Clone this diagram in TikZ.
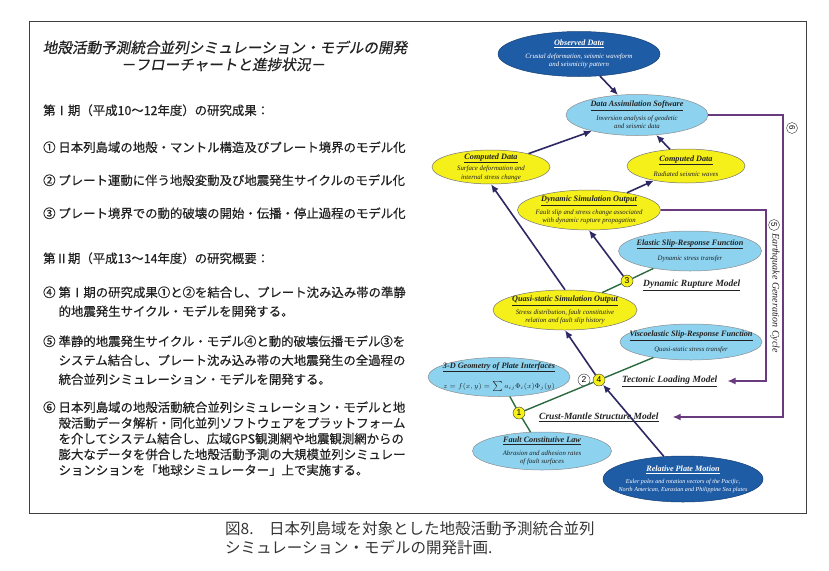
\documentclass[tikz,border=0pt]{standalone}
\usepackage{fontspec}
\usepackage{xcolor}
\usepackage{tikz}
\usetikzlibrary{arrows.meta,positioning,shapes.geometric,calc}
\setmainfont{Liberation Serif}
\newfontfamily\jpfont{Noto Sans CJK JP}[FakeBold=0.5]
\newfontfamily\jpplain{Noto Sans CJK JP}
\newfontfamily\jpslant{Noto Sans CJK JP}[FakeSlant=0.18,FakeBold=0.5]
\newfontfamily\numfont{Liberation Sans}
\definecolor{PlanNavy}{HTML}{2D2864}
\definecolor{PlanGreen}{HTML}{2A6A3E}
\definecolor{PlanPurple}{HTML}{6A3A7E}
\definecolor{PlanDeep}{HTML}{1F5CA6}
\definecolor{PlanSky}{HTML}{8DD3F0}
\definecolor{PlanCanary}{HTML}{F5EF1A}
\definecolor{PlanInk}{HTML}{222222}
\newcommand{\ntitle}[1]{{\bfseries\fontsize{8.2}{9}\selectfont\underline{#1}}}
\newcommand{\jpitem}[2]{\begin{tabular}[t]{@{}l@{\hspace{3pt}}l@{}}#1&\begin{tabular}[t]{@{}l@{}}#2\end{tabular}\end{tabular}}
\tikzset{
  oval/.style={ellipse,align=center,inner xsep=-24pt,inner ysep=-9pt,line width=0.5pt,
    font=\itshape\fontsize{6.8}{8.4}\selectfont},
  observed/.style={oval,draw=PlanDeep!70!black,fill=PlanDeep,text=white},
  output/.style={oval,draw=black!55,fill=PlanCanary,text=PlanInk},
  response/.style={oval,draw=black!45,fill=PlanSky,text=PlanInk},
  tag/.style={circle,draw=black!80,fill=PlanCanary,minimum size=12pt,inner sep=0pt,
    font=\numfont\fontsize{8.5}{9}\selectfont},
  cyctag/.style={circle,draw=black!80,fill=white,minimum size=11pt,inner sep=0pt,rotate=-90,
    font=\numfont\fontsize{8}{9}\selectfont},
  model/.style={font=\bfseries\itshape\fontsize{9.5}{10}\selectfont,text=PlanInk,inner sep=2pt},
  jptext/.style={anchor=base west,inner sep=0pt,text=PlanInk,
    font=\jpfont\fontsize{12.4}{19}\selectfont},
  flow/.style={-{Latex[length=8pt,width=7pt]},line width=1.6pt,draw=PlanNavy},
  link/.style={line width=1.4pt,draw=PlanGreen},
  loop/.style={-{Latex[length=8pt,width=7pt]},line width=1.1pt,draw=PlanPurple}
}
\begin{document}
\begin{tikzpicture}[x=1pt,y=-1pt]
  \useasboundingbox (0,0) rectangle (829,570);
  \draw[line width=0.8pt,black!75] (29,21) rectangle (806,513);

  % left column
  \node[jptext,anchor=base,font=\jpslant\fontsize{14.6}{18}\selectfont] (head) at (225,53) {地殻活動予測統合並列シミュレーション・モデルの開発};
  \node[jptext,anchor=base,font=\jpslant\fontsize{14.6}{18}\selectfont] (subhead) at (223,70) {－フローチャートと進捗状況－};
  \node[jptext] (phase1) at (43,115) {第Ⅰ期（平成10～12年度）の研究成果：};
  \node[jptext] (res1) at (43,152) {① 日本列島域の地殻・マントル構造及びプレート境界のモデル化};
  \node[jptext] (res2) at (43,185) {② プレート運動に伴う地殻変動及び地震発生サイクルのモデル化};
  \node[jptext] (res3) at (43,218) {③ プレート境界での動的破壊の開始・伝播・停止過程のモデル化};
  \node[jptext] (phase2) at (43,263) {第Ⅱ期（平成13～14年度）の研究概要：};
  \node[jptext] (plan4) at (43,297) {\jpitem{④}{第Ⅰ期の研究成果①と②を結合し、プレート沈み込み帯の準静\\的地震発生サイクル・モデルを開発する。}};
  \node[jptext] (plan5) at (43,346) {\jpitem{⑤}{準静的地震発生サイクル・モデル④と動的破壊伝播モデル③を\\システム結合し、プレート沈み込み帯の大地震発生の全過程の\\統合並列シミュレーション・モデルを開発する。}};
  \node[jptext,font=\jpfont\fontsize{12.4}{15.7}\selectfont] (plan6) at (43,412) {\jpitem{⑥}{日本列島域の地殻活動統合並列シミュレーション・モデルと地\\殻活動データ解析・同化並列ソフトウェアをプラットフォーム\\を介してシステム結合し、広域GPS観測網や地震観測網からの\\膨大なデータを併合した地殻活動予測の大規模並列シミュレー\\ションションを「地球シミュレーター」上で実施する。}};

  % flow chart
  \node[observed,minimum width=162pt,minimum height=45pt] (obs) at (579,54) {\ntitle{Observed Data}\\[4pt]Crustal deformation, seismic waveform\\and seismicity pattern};
  \node[response,minimum width=142pt,minimum height=41pt] (assim) at (637,115) {\ntitle{Data Assimilation Software}\\[4pt]Inversion analysis of geodetic\\and seismic data};
  \node[output,minimum width=118pt,minimum height=34pt] (compL) at (491,167) {\ntitle{Computed Data}\\[2pt]Surface deformation and\\internal stress change};
  \node[output,minimum width=118pt,minimum height=34pt] (compR) at (686,166) {\ntitle{Computed Data}\\[6pt]Radiated seismic waves};
  \node[output,minimum width=143pt,minimum height=40pt] (dynsim) at (589,210) {\ntitle{Dynamic Simulation Output}\\[3pt]Fault slip and stress change associated\\with dynamic rupture propagation};
  \node[response,minimum width=143pt,minimum height=40pt] (elastic) at (690,251) {\ntitle{Elastic Slip-Response Function}\\[6pt]Dynamic stress transfer};
  \node[tag] (c3) at (627,281) {3};
  \node[model,anchor=west] (rupture) at (641,285) {\underline{Dynamic Rupture Model}};
  \node[output,minimum width=144pt,minimum height=40pt] (quasi) at (565,310) {\ntitle{Quasi-static Simulation Output}\\[3pt]Stress distribution, fault constitutive\\relation and fault slip history};
  \node[response,minimum width=142pt,minimum height=36pt] (visco) at (691,342) {\ntitle{Viscoelastic Slip-Response Function}\\[5pt]Quasi-static stress transfer};
  \node[response,minimum width=142pt,minimum height=39pt] (geom) at (499,377) {\ntitle{3-D Geometry of Plate Interfaces}\\[8pt]{\upshape\fontsize{6.6}{8}\selectfont$z=f(x,y)=\sum a_{ij}\Phi_i(x)\Phi_j(y)$}};
  \node[tag,fill=white] (c2) at (584,380) {2};
  \node[tag] (c4) at (599,380) {4};
  \node[model,anchor=west] (tectonic) at (620,381) {\underline{Tectonic Loading Model}};
  \node[tag] (c1) at (519,413) {1};
  \node[model,anchor=west] (crust) at (537,417) {\underline{Crust-Mantle Structure Model}};
  \node[response,minimum width=139pt,minimum height=38pt] (fault) at (542,451) {\ntitle{Fault Constitutive Law}\\[4pt]Abrasion and adhesion rates\\of fault surfaces};
  \node[observed,minimum width=160pt,minimum height=46pt,font=\itshape\fontsize{6.1}{7.8}\selectfont] (plate) at (683,479) {\ntitle{Relative Plate Motion}\\[4pt]Euler poles and rotation vectors of the Pacific,\\North American, Eurasian and Philippine Sea plates};

  \draw[flow] (obs) -- (assim);
  \draw[flow] (compL) -- (assim);
  \draw[flow] (compR) -- (assim);
  \draw[flow] (dynsim) -- (compR);
  \draw[flow] (quasi.north) -- (compL.south);
  \draw[flow] (c3) -- (dynsim.south);
  \draw[flow] (c4) -- (quasi.south);
  \draw[flow] (plate) -- (c4);
  \draw[link] (quasi) -- (c3) -- (elastic);
  \draw[link] (c1) -- (c4) -- (visco);
  \draw[link] (geom) -- (c1) -- (fault);

  % earthquake generation cycle
  \coordinate (turn5) at (766,381);
  \coordinate (turn6) at (783,417);
  \draw[loop] (dynsim.east) -| (turn5) -- ([xshift=8pt]tectonic.east);
  \draw[loop] (assim.east) -| (turn6) -- ([xshift=12pt]crust.east);
  \node[cyctag] (n6) at (792,128) {6};
  \node[cyctag] (n5) at (774,225) {5};
  \node[rotate=-90,font=\itshape\fontsize{10}{11}\selectfont,text=PlanInk] (cycle) at (775,293) {Earthquake Generation Cycle};

  % caption
  \node[jptext,align=left,text=black!80,font=\jpplain\fontsize{15.5}{19}\selectfont] (cap) at (225,553) {図8.　日本列島域を対象とした地殻活動予測統合並列\\シミュレーション・モデルの開発計画.};
\end{tikzpicture}
\end{document}
